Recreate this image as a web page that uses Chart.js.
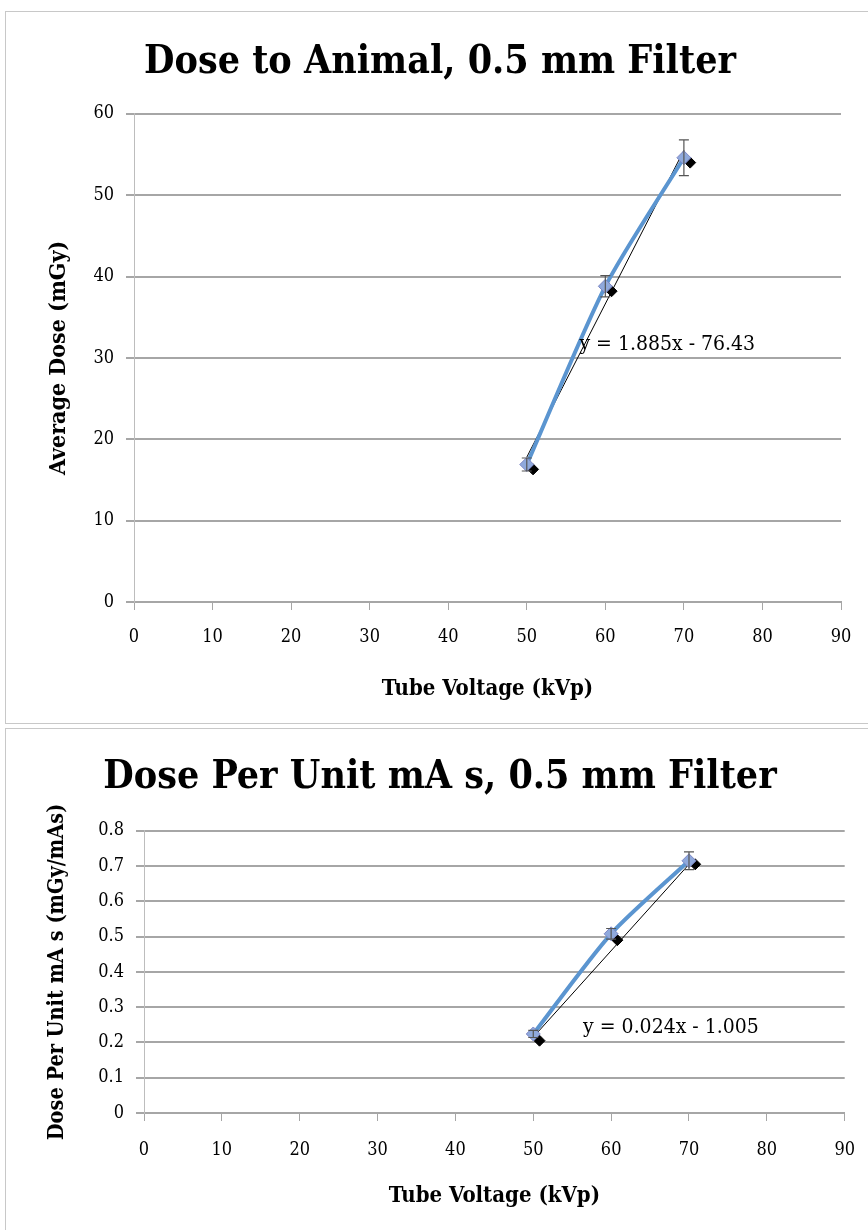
<!DOCTYPE html>
<html>
<head>
<meta charset="utf-8">
<script src="https://cdn.jsdelivr.net/npm/chart.js@4"></script>
<style>
  body { margin: 0; background: #fff; }
  .box { position: absolute; left: 5px; width: 868px; border: 1px solid #c8c8c8; background: #fff; }
  #box1 { top: 11px; height: 711px; }
  #box2 { top: 728px; height: 502px; }
  canvas { display: block; }
</style>
</head>
<body>
<div class="box" id="box1"><canvas id="doseChart" width="868" height="711"></canvas></div>
<div class="box" id="box2"><canvas id="perMasChart" width="868" height="502"></canvas></div>
<script>
// tube voltage (kVp)
const kvp = [50, 60, 70];
// black markers sit a little to the right in the original
const kvpOffset = [50.8, 60.8, 70.8];

// top chart: average dose (mGy)
const doseAvg = [16.9, 38.8, 54.6];
const doseErr = [0.8, 1.3, 2.2];
const doseBlack = [16.3, 38.2, 54.0];
const doseTrendX = [50, 70];
const doseTrendY = [17.8, 55.5];
const doseEq = 'y = 1.885x - 76.43';

// bottom chart: dose per unit mA s (mGy/mAs)
const perMasAvg = [0.224, 0.508, 0.715];
const perMasErr = [0.01, 0.015, 0.025];
const perMasBlack = [0.205, 0.49, 0.705];
const perMasTrendX = [50, 70];
const perMasTrendY = [0.215, 0.705];
const perMasEq = 'y = 0.024x - 1.005';

const xTicks = [0, 10, 20, 30, 40, 50, 60, 70, 80, 90];

const serif = "'DejaVu Serif Condensed', 'Liberation Serif', serif";
const blue = '#5b95d0';
const grid = '#a6a6a6';

const toPts = (xs, ys) => xs.map((x, i) => ({x: x, y: ys[i]}));

// error bars + trendline equation, drawn through the chart scales
const extras = {
  id: 'extras',
  afterDatasetsDraw(chart, args, opts) {
    const {ctx, scales: {x, y}} = chart;
    ctx.save();
    ctx.strokeStyle = '#555';
    ctx.lineWidth = 1.2;
    opts.xs.forEach((v, i) => {
      const px = x.getPixelForValue(v);
      const top = y.getPixelForValue(opts.ys[i] + opts.err[i]);
      const bot = y.getPixelForValue(opts.ys[i] - opts.err[i]);
      ctx.beginPath();
      ctx.moveTo(px, top); ctx.lineTo(px, bot);
      ctx.moveTo(px - 5, top); ctx.lineTo(px + 5, top);
      ctx.moveTo(px - 5, bot); ctx.lineTo(px + 5, bot);
      ctx.stroke();
    });
    ctx.fillStyle = '#000';
    ctx.font = "21px " + serif;
    ctx.textBaseline = 'middle';
    ctx.fillText(opts.label, x.getPixelForValue(opts.labelAt[0]), y.getPixelForValue(opts.labelAt[1]));
    ctx.restore();
  }
};

function makeChart(id, o) {
  new Chart(document.getElementById(id), {
    type: 'scatter',
    data: {
      datasets: [
        {
          data: toPts(o.trendX, o.trendY), showLine: true, borderColor: '#000',
          borderWidth: 1, pointRadius: 0, order: 3
        },
        {
          data: toPts(kvpOffset, o.black), showLine: false, pointStyle: 'rectRot',
          pointRadius: 5.5, backgroundColor: '#000', borderColor: '#000', order: 2
        },
        {
          data: toPts(kvp, o.avg), showLine: true, borderColor: blue, borderWidth: 4,
          tension: 0.25,
          pointStyle: 'rectRot', pointRadius: 7, backgroundColor: '#8fa9dc',
          pointBorderColor: '#7d86c4', pointBorderWidth: 1, order: 1
        }
      ]
    },
    options: {
      responsive: false,
      animation: false,
      // equal side padding keeps the title centred on the box
      layout: {padding: {left: o.pad, right: o.pad, top: 0, bottom: 0}},
      plugins: {
        legend: {display: false},
        tooltip: {enabled: false},
        title: {
          display: true, text: o.title, color: '#000',
          font: {family: serif, size: 39, weight: 'bold'},
          padding: o.titlePad
        },
        extras: {xs: kvp, ys: o.avg, err: o.err, label: o.eq, labelAt: o.labelAt}
      },
      scales: {
        x: {
          type: 'linear', min: 0, max: 90,
          afterBuildTicks: s => { s.ticks = xTicks.map(v => ({value: v})); },
          afterFit: s => { s.height = o.xHeight; },
          grid: {display: true, drawOnChartArea: false, color: grid, lineWidth: 1, tickLength: 8},
          border: {color: grid, width: 2},
          ticks: {color: '#000', font: {family: serif, size: 18}, padding: o.xTickPad, maxRotation: 0},
          title: {display: true, text: 'Tube Voltage (kVp)', color: '#000',
                  font: {family: serif, size: 22, weight: 'bold'}, padding: {top: 0, bottom: o.xTitlePad}}
        },
        y: {
          min: 0, max: o.ymax,
          afterBuildTicks: s => { s.ticks = o.yTicks.map(v => ({value: v})); },
          afterFit: s => { s.width = o.yWidth; },
          grid: {color: grid, lineWidth: 2, tickLength: 8},
          border: {color: '#bdbdbd', width: 1},
          ticks: {color: '#000', font: {family: serif, size: 18}, padding: 12},
          title: {display: true, text: o.ytitle, color: '#000',
                  font: {family: serif, size: o.yTitleSize, weight: 'bold'}, padding: {top: o.yTitlePad, bottom: 0}}
        }
      }
    },
    plugins: [extras]
  });
}

makeChart('doseChart', {
  title: 'Dose to Animal, 0.5 mm Filter', titlePad: {top: 27, bottom: 28},
  ytitle: 'Average Dose (mGy)', yTitleSize: 23, yTitlePad: 6, yWidth: 95, pad: 33,
  xHeight: 121, xTickPad: 17, xTitlePad: 21,
  avg: doseAvg, err: doseErr, black: doseBlack, trendX: doseTrendX, trendY: doseTrendY,
  eq: doseEq, labelAt: [56.7, 31.7], ymax: 60, yTicks: [0, 10, 20, 30, 40, 50, 60]
});
makeChart('perMasChart', {
  title: 'Dose Per Unit mA s, 0.5 mm Filter', titlePad: {top: 25, bottom: 30},
  ytitle: 'Dose Per Unit mA s (mGy/mAs)', yTitleSize: 21.5, yTitlePad: 11, yWidth: 110, pad: 28,
  xHeight: 118, xTickPad: 19, xTitlePad: 22,
  avg: perMasAvg, err: perMasErr, black: perMasBlack, trendX: perMasTrendX, trendY: perMasTrendY,
  eq: perMasEq, labelAt: [56.4, 0.241], ymax: 0.8,
  yTicks: [0, 0.1, 0.2, 0.3, 0.4, 0.5, 0.6, 0.7, 0.8]
});
</script>
</body>
</html>
